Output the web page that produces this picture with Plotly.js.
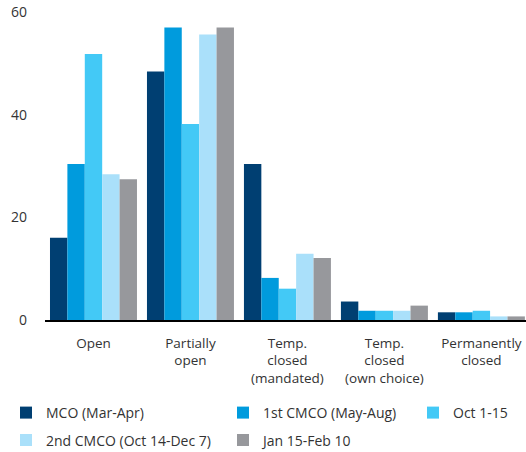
<!DOCTYPE html>
<html>
<head>
<meta charset="utf-8">
<script src="https://cdn.plot.ly/plotly-3.0.1.min.js"></script>
<style>html,body{margin:0;padding:0;background:#fff;}#chart{width:526px;height:452px;}</style>
</head>
<body>
<div id="chart"></div>
<script>
const categories = ["Open", "Partially<br>open", "Temp.<br>closed<br>(mandated)", "Temp.<br>closed<br>(own choice)", "Permanently<br>closed"];
const seriesNames = ["MCO (Mar-Apr)", "1st CMCO (May-Aug)", "Oct 1-15", "2nd CMCO (Oct 14-Dec 7)", "Jan 15-Feb 10"];
const mco = [16.0, 48.4, 30.4, 3.6, 1.5];
const cmco1 = [30.4, 57.0, 8.2, 1.8, 1.5];
const oct = [51.8, 38.2, 6.1, 1.8, 1.8];
const cmco2 = [28.4, 55.6, 12.9, 1.8, 0.7];
const jan = [27.4, 57.0, 12.1, 2.8, 0.7];
const yTicks = [0, 20, 40, 60];

const colors = ["#003f72", "#009bdd", "#43c9f6", "#aae0fa", "#97989c"];
const values = [mco, cmco1, oct, cmco2, jan];
const legendIds = ["legend", "legend2", "legend3", "legend4", "legend5"];

const traces = values.map((v, i) => ({
  type: "bar",
  x: categories,
  y: v,
  name: seriesNames[i],
  marker: {color: colors[i]},
  legend: legendIds[i],
  showlegend: true,
  hoverinfo: "x+y+name"
}));

const pxX = px => (px - 45) / 481;
const pxY = py => (320 - py) / 308;
const legendPos = [[6, 413], [223, 413], [413, 413], [6, 440.5], [223, 440.5]];
const fam = "'Open Sans', 'Noto Sans', sans-serif";
const font = {family: fam, size: 14, color: "#333333"};

const layout = {
  width: 526,
  height: 452,
  margin: {l: 45, r: 0, t: 12, b: 132, autoexpand: false},
  paper_bgcolor: "#ffffff",
  plot_bgcolor: "#ffffff",
  font: font,
  showlegend: true,
  barmode: "group",
  bargap: 0.103,
  bargroupgap: 0,
  xaxis: {
    type: "category",
    range: [-0.5, 4.46],
    showline: true,
    linecolor: "#000000",
    linewidth: 1.5,
    ticks: "",
    showgrid: false,
    zeroline: false,
    automargin: false,
    tickfont: {family: fam, size: 13.5, color: "#333333"},
    ticklabelstandoff: 10,
    fixedrange: true
  },
  yaxis: {
    range: [0, 60],
    tickvals: yTicks,
    ticktext: yTicks.map(String),
    showgrid: false,
    zeroline: false,
    showline: false,
    automargin: false,
    ticks: "",
    tickfont: {family: fam, size: 14, color: "#333333"},
    ticklabelstandoff: 17,
    fixedrange: true
  }
};
legendIds.forEach((id, i) => {
  layout[id] = {
    x: pxX(legendPos[i][0]),
    y: pxY(legendPos[i][1]),
    xanchor: "left",
    yanchor: "middle",
    orientation: "h",
    bgcolor: "rgba(0,0,0,0)",
    font: font
  };
});

Plotly.newPlot("chart", traces, layout, {displayModeBar: false, staticPlot: true});
</script>
</body>
</html>
